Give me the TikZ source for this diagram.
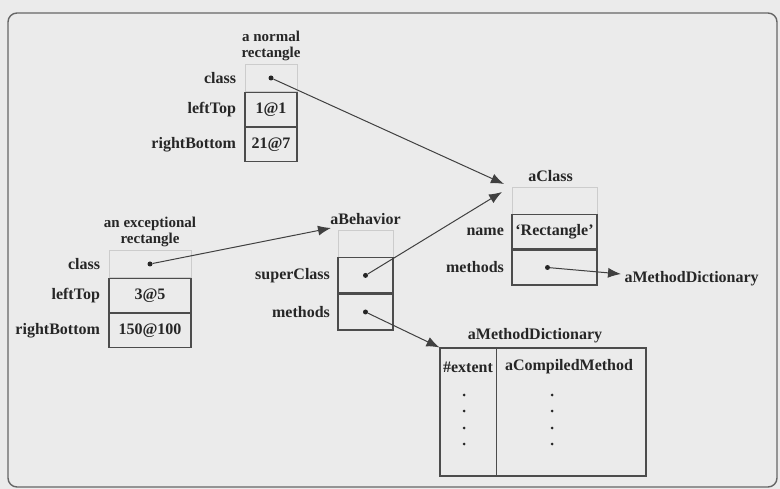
\documentclass[tikz,border=0pt]{standalone}
\usepackage{fontspec}
\setmainfont{Liberation Serif}
\usetikzlibrary{positioning,calc,arrows.meta}

\begin{document}
\begin{tikzpicture}[x=1pt,y=-1pt,
    every node/.style={font=\fontsize{16}{17}\selectfont\bfseries, text=black!85},
    cell/.style={draw=black!70, line width=1.1pt, minimum height=34pt, inner sep=0pt},
    ghost/.style={draw=black!20, line width=0.7pt, minimum height=27pt, inner sep=0pt},
    title/.style={align=center, font=\fontsize{15}{16}\selectfont\bfseries},
    dot/.style={circle, fill=black!85, inner sep=0pt, minimum size=5pt},
    ptr/.style={-{Latex[length=13pt,width=10pt]}, draw=black!75, line width=1pt}]
    \useasboundingbox (0,0) rectangle (780,489);
    \fill[black!8] (0,0) rectangle (780,489);
    \draw[black!60, line width=1.4pt, rounded corners=9pt] (8,13) rectangle (777,487);

    % a normal rectangle
    \node[ghost, minimum width=52pt] (nrClass) at (271,78) {};
    \node[cell, minimum width=52pt, below=0pt of nrClass] (nrLeft) {1@1};
    \node[cell, minimum width=52pt, below=0pt of nrLeft] (nrRight) {21@7};
    \node[left=5pt of nrClass] (nrClassLbl) {class};
    \node[left=5pt of nrLeft] (nrLeftLbl) {leftTop};
    \node[left=5pt of nrRight] (nrRightLbl) {rightBottom};
    \node[title, above=0pt of nrClass] (nrTitle) {a normal\\rectangle};
    \node[dot] (nrDot) at (nrClass) {};

    % an exceptional rectangle
    \node[ghost, minimum width=82pt] (exClass) at (150,264) {};
    \node[cell, minimum width=82pt, below=0pt of exClass] (exLeft) {3@5};
    \node[cell, minimum width=82pt, below=0pt of exLeft] (exRight) {150@100};
    \node[left=5pt of exClass] (exClassLbl) {class};
    \node[left=5pt of exLeft] (exLeftLbl) {leftTop};
    \node[left=5pt of exRight] (exRightLbl) {rightBottom};
    \node[title, above=0pt of exClass] (exTitle) {an exceptional\\rectangle};
    \node[dot] (exDot) at (exClass) {};

    % aBehavior
    \node[ghost, minimum width=55pt] (behTop) at (365.5,243.5) {};
    \node[cell, minimum width=55pt, minimum height=35pt, below=0pt of behTop] (behSuper) {};
    \node[cell, minimum width=55pt, minimum height=36pt, below=0pt of behSuper] (behMeth) {};
    \node[left=4pt of behSuper] (behSuperLbl) {superClass};
    \node[left=4pt of behMeth] (behMethLbl) {methods};
    \node[above=1pt of behTop] (behTitle) {aBehavior};
    \node[dot] (behSupDot) at (behSuper) {};
    \node[dot] (behMethDot) at (behMeth) {};

    % aClass
    \node[ghost, minimum width=85pt] (clsTop) at (554.5,200.5) {};
    \node[cell, minimum width=85pt, below=0pt of clsTop] (clsName) {`Rectangle'};
    \node[cell, minimum width=85pt, minimum height=35pt, below=0pt of clsName] (clsMeth) {};
    \node[left=4pt of clsName] (clsNameLbl) {name};
    \node[left=4pt of clsMeth] (clsMethLbl) {methods};
    \node[above=1pt of clsTop, xshift=-4pt] (clsTitle) {aClass};
    \node[dot] (clsMethDot) at ([xshift=-7pt]clsMeth.center) {};
    \node[anchor=west] (mdRef) at (621,279) {aMethodDictionary};

    % aMethodDictionary
    \node[cell, minimum width=206pt, minimum height=128pt] (md) at (543,412) {};
    \node[above=1pt of md.north, xshift=-8pt] (mdTitle) {aMethodDictionary};
    \draw[black!70, line width=0.7pt] (md.north west) ++(57,0) coordinate (mdSplit) -- (mdSplit |- md.south);
    \node (mdKey) at (468,367) {\#extent};
    \node (mdVal) at (569,367) {aCompiledMethod};
    \foreach \i/\yy in {1/395,2/411,3/428,4/444} {
        \node[dot, minimum size=3pt] (mdKeyDot\i) at (464,\yy) {};
        \node[dot, minimum size=3pt] (mdValDot\i) at (552,\yy) {};
    }

    % pointers
    \coordinate (clsInA) at (504,184);
    \coordinate (clsInB) at (502,192);
    \coordinate (behIn) at (331,228);
    \draw[ptr] (nrDot) -- (clsInA);
    \draw[ptr] (behSupDot) -- (clsInB);
    \draw[ptr] (exDot) -- (behIn);
    \draw[ptr] (behMethDot) -- (md.north west);
    \draw[ptr] (clsMethDot) -- ([yshift=5pt]mdRef.west);
\end{tikzpicture}
\end{document}
